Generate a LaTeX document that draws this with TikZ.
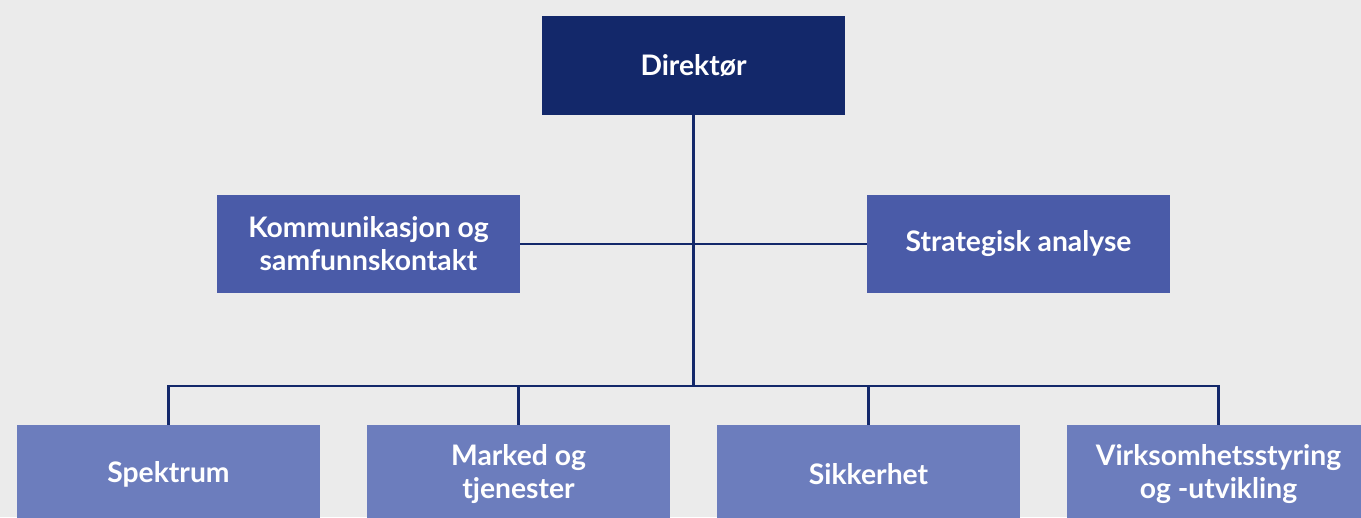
\documentclass[tikz,border=0pt]{standalone}
\usepackage{fontspec}
\setmainfont{Lato}
\usepackage{tikz}
\definecolor{bggrey}{HTML}{EBEBEB}
\definecolor{navy}{HTML}{13286A}
\definecolor{midblue}{HTML}{4A5BA8}
\definecolor{lightblue}{HTML}{6C7DBD}
\tikzset{>=latex}

\begin{document}
\begin{tikzpicture}[x=0.02cm, y=-0.02cm,
    unit/.style={text=white, font=\fontsize{16.1}{18.7}\selectfont\bfseries,
        align=center, minimum width=303*0.02cm, minimum height=98*0.02cm, inner sep=0pt},
    link/.style={draw=navy, line width=1.4pt}]
    \fill[bggrey](0, 0)rectangle(1361, 517);
    \clip(0, 0)rectangle(1361, 517);
    % top
    \node[unit, fill=navy] (dir) at (693.5, 65.5) {Direktør};
    % staff
    \node[unit, fill=midblue] (kom) at (368.5, 244) {Kommunikasjon og\\samfunnskontakt};
    \node[unit, fill=midblue] (strat) at (1018.5, 244) {Strategisk analyse};
    % departments
    \node[unit, fill=lightblue] (spek) at (168.5, 474) {Spektrum};
    \node[unit, fill=lightblue] (mark) at (518.5, 474) {Marked og\\tjenester};
    \node[unit, fill=lightblue] (sikk) at (868.5, 474) {Sikkerhet};
    \node[unit, fill=lightblue] (virk) at (1218.5, 474) {Virksomhetsstyring\\og -utvikling};
    \coordinate (hub) at (693.5, 386);
    \draw[link] (dir.south) -- (hub);
    \draw[link] (kom.east) -- (strat.west);
    \draw[link] (spek.north) |- (hub) -| (virk.north);
    \draw[link] (mark.north) -- (mark.north |- hub);
    \draw[link] (sikk.north) -- (sikk.north |- hub);
\end{tikzpicture}
\end{document}
